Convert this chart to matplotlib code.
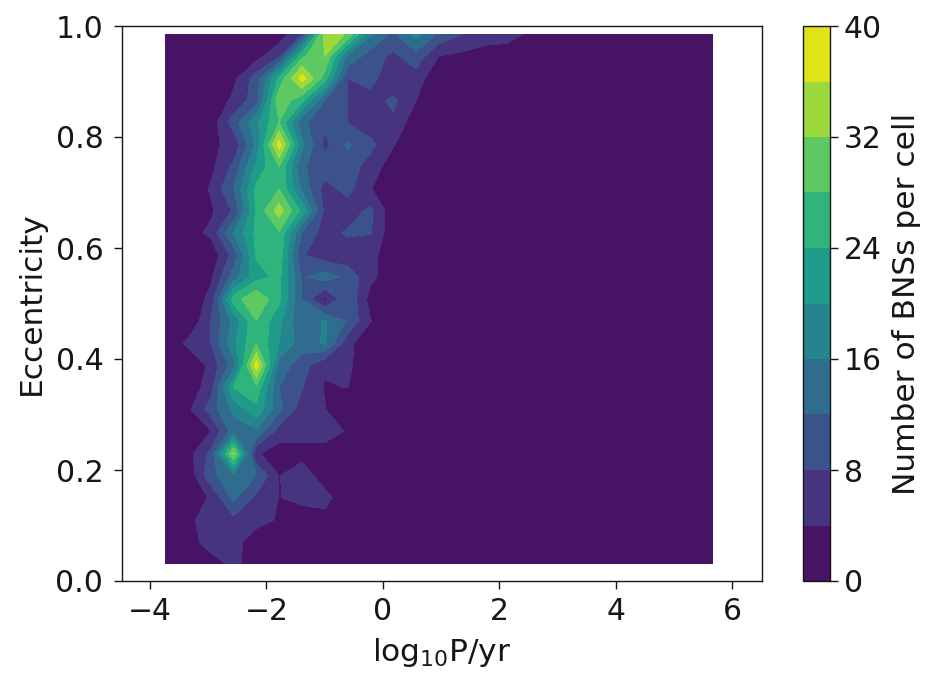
import numpy as np
import matplotlib
matplotlib.use('Agg')
import matplotlib.pyplot as plt

# grid nodes of the counting cells
log_p = np.linspace(-3.74, 5.66, 25)
ecc = np.linspace(0.031, 0.985, 25)

# BNS counts per cell, bottom row first
counts = [
    [0, 0, 2, 5, 2, 0, 0, 0, 0, 0, 0, 0, 0, 0, 0, 0, 0, 0, 0, 0, 0, 0, 0, 0, 0],
    [0, 2, 6, 6, 1, 0, 0, 0, 0, 0, 0, 0, 0, 0, 0, 0, 0, 0, 0, 0, 0, 0, 0, 0, 0],
    [0, 3, 6, 7, 6, 3.4, 2.5, 3, 0, 0, 0, 0, 0, 0, 0, 0, 0, 0, 0, 0, 0, 0, 0, 0, 0],
    [0, 1, 4.5, 13, 7, 3.9, 4.8, 5, 2, 0, 0, 0, 0, 0, 0, 0, 0, 0, 0, 0, 0, 0, 0, 0, 0],
    [0, 0.8, 10.8, 15, 12, 3.9, 5.5, 2.5, 0, 0, 0, 0, 0, 0, 0, 0, 0, 0, 0, 0, 0, 0, 0, 0, 0],
    [0, 2.5, 9, 33, 4.5, 2, 3, 3, 0, 0, 0, 0, 0, 0, 0, 0, 0, 0, 0, 0, 0, 0, 0, 0, 0],
    [0, 0, 3.9, 14, 15, 6, 5, 5, 3.8, 0, 0, 0, 0, 0, 0, 0, 0, 0, 0, 0, 0, 0, 0, 0, 0],
    [0, 3, 9.7, 17, 23, 13, 6, 4.2, 0, 0, 0, 0, 0, 0, 0, 0, 0, 0, 0, 0, 0, 0, 0, 0, 0],
    [0, 1, 6.3, 24, 27, 12, 8.2, 3.7, 4.1, 0, 0, 0, 0, 0, 0, 0, 0, 0, 0, 0, 0, 0, 0, 0, 0],
    [0, 0, 5, 14, 38, 14, 10, 4.5, 5, 0.5, 0, 0, 0, 0, 0, 0, 0, 0, 0, 0, 0, 0, 0, 0, 0],
    [0, 5, 8, 19, 27.9, 20, 14, 16.5, 5.5, 0, 0, 0, 0, 0, 0, 0, 0, 0, 0, 0, 0, 0, 0, 0, 0],
    [0, 0, 8, 17, 27.9, 21, 12.5, 16.5, 11.5, 4.2, 0, 0, 0, 0, 0, 0, 0, 0, 0, 0, 0, 0, 0, 0, 0],
    [0, 0, 5.5, 26, 31.5, 25, 12, 3, 11.5, 2.5, 0, 0, 0, 0, 0, 0, 0, 0, 0, 0, 0, 0, 0, 0, 0],
    [0, 0, 3, 14, 22.5, 25, 11.5, 14, 11, 5, 1.5, 0, 0, 0, 0, 0, 0, 0, 0, 0, 0, 0, 0, 0, 0],
    [0, 0, 1, 9.5, 24.5, 26.5, 8.4, 5.5, 5, 5, 2, 0, 0, 0, 0, 0, 0, 0, 0, 0, 0, 0, 0, 0, 0],
    [0, 2, 5, 16, 25, 27.5, 12, 6, 8.7, 8.2, 1.2, 0, 0, 0, 0, 0, 0, 0, 0, 0, 0, 0, 0, 0, 0],
    [0, 0, 3.2, 8.5, 24.5, 34, 23, 7, 5.5, 9, 1.2, 0, 0, 0, 0, 0, 0, 0, 0, 0, 0, 0, 0, 0, 0],
    [0, 0.2, 4.5, 12, 25, 28, 15, 6.5, 9.4, 4.3, 0, 0, 0, 0, 0, 0, 0, 0, 0, 0, 0, 0, 0, 0, 0],
    [0, 0, 2.8, 9, 21, 28, 12.5, 10, 10.5, 6, 2, 0, 0, 0, 0, 0, 0, 0, 0, 0, 0, 0, 0, 0, 0],
    [0, 0, 3.3, 5, 17, 38, 17, 6.8, 12.6, 9.3, 4.3, 0, 0, 0, 0, 0, 0, 0, 0, 0, 0, 0, 0, 0, 0],
    [0, 0, 1.5, 10, 19, 28, 13, 9, 8, 5, 7, 1.6, 0, 0, 0, 0, 0, 0, 0, 0, 0, 0, 0, 0, 0],
    [0, 0, 0.5, 5, 10, 31, 25, 12, 8, 6, 9, 4, 0, 0, 0, 0, 0, 0, 0, 0, 0, 0, 0, 0, 0],
    [0, 0, 0, 3, 10, 25, 38, 26, 8, 10, 3.8, 6, 1, 0, 0, 0, 0, 0, 0, 0, 0, 0, 0, 0, 0],
    [0, 0, 0, 0, 2.5, 7.5, 27, 32, 15, 10, 7, 10.5, 3.9, 3, 1, 1, 0, 0, 0, 0, 0, 0, 0, 0, 0],
    [0, 0, 0, 0, 0, 1.5, 8, 34, 31.6, 16.5, 11, 17.5, 11, 8, 7, 6, 3, 0, 0, 0, 0, 0, 0, 0, 0],
]

levels = np.arange(0, 41, 4)
cbar_ticks = [0, 8, 16, 24, 32, 40]
x_ticks = [-4, -2, 0, 2, 4, 6]
y_ticks = [0.0, 0.2, 0.4, 0.6, 0.8, 1.0]

INK = '#161616'
W, H = 930, 675
fig = plt.figure(figsize=(W / 100, H / 100), dpi=100)
ax = fig.add_axes([122 / W, 1 - 581 / H, 640 / W, 555 / H])
cax = fig.add_axes([803 / W, 1 - 581 / H, 27 / W, 555 / H])

cf = ax.contourf(log_p, ecc, np.array(counts), levels=levels, cmap='viridis')
ax.set_xlim(-4.48, 6.51)
ax.set_ylim(0, 1)
ax.set_xticks(x_ticks)
ax.set_yticks(y_ticks)
ax.tick_params(axis='x', labelsize=21.5, length=5.5, width=1.0, pad=6, color=INK, labelcolor=INK)
ax.tick_params(axis='y', labelsize=21.5, length=5.5, width=1.0, pad=8, color=INK, labelcolor=INK)
ax.set_xlabel('log$_{10}$P/yr', fontsize=22.5, labelpad=7, color=INK)
ax.set_ylabel('Eccentricity', fontsize=22.5, labelpad=7, color=INK)
for spine in ax.spines.values():
    spine.set_linewidth(1.0)
    spine.set_color(INK)

cbar = fig.colorbar(cf, cax=cax, ticks=cbar_ticks)
cbar.ax.tick_params(labelsize=21.5, length=5.5, width=1.0, pad=4.5, color=INK, labelcolor=INK)
cbar.set_label('Number of BNSs per cell', fontsize=22.5, labelpad=7, color=INK)
cbar.outline.set_linewidth(1.0)
cbar.outline.set_edgecolor(INK)

fig.savefig('out.png', dpi=100)
